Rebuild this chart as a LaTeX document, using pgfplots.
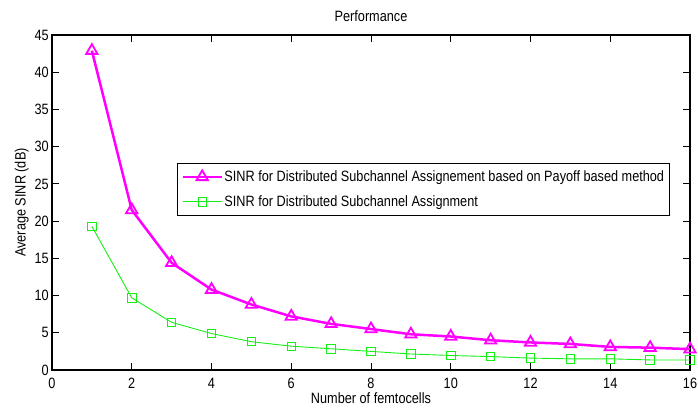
\documentclass[border=0pt]{standalone}
\usepackage{fontspec}
\setmainfont{Liberation Sans}[FakeStretch=0.85]
\usepackage{pgfplots}
\pgfplotsset{compat=1.18}
\definecolor{mag}{RGB}{255,0,255}
\definecolor{grn}{RGB}{20,240,20}
\begin{document}
\begin{tikzpicture}
\begin{axis}[
 scale only axis, width=638bp, height=335bp,
 xmin=0,xmax=16,ymin=0,ymax=45,
 xtick={0,2,...,16}, ytick={0,5,...,45},
 tick align=inside, major tick length=7bp,
 axis line style={line width=1.1bp},
 every tick/.style={black,line width=0.9bp},
 font=\fontsize{15}{17}\selectfont,
 /pgf/number format/assume math mode=true,
 xticklabel style={inner sep=0pt, yshift=-8bp},
 yticklabel style={inner sep=0pt, xshift=-3bp},
 title={Performance},
 title style={at={(axis description cs:0.5,1.021)}, anchor=base, inner sep=0pt},
 xlabel={Number of femtocells},
 xlabel style={at={(axis description cs:0.5,-0.0657)}, anchor=north, inner sep=0pt},
 ylabel={Average SINR (dB)},
 ylabel style={at={(axis description cs:-0.036,0.5)}, anchor=south, inner sep=0pt},
 legend cell align=left,
 legend style={at={(rel axis cs:0.196,0.618)}, anchor=north west, draw=black, line width=0.8bp,
   inner xsep=4bp, inner ysep=5bp, row sep=8bp,
   nodes={inner sep=1.5bp, text height=12bp, text depth=2bp},
   font=\fontsize{15}{17}\selectfont},
 legend image code/.code={\draw[mark repeat=2,mark phase=2] plot coordinates {(0bp,0bp) (19.5bp,0bp) (39bp,0bp)};},
]
\addplot[color=mag, line width=2.5bp, mark=triangle, mark size=6.5bp, mark options={solid, line width=1.8bp}]
coordinates {(1,42.9)(2,21.5)(3,14.4)(4,10.8)(5,8.8)(6,7.2)(7,6.2)(8,5.5)(9,4.8)(10,4.5)(11,4.0)(12,3.7)(13,3.5)(14,3.1)(15,3.0)(16,2.8)};
\addlegendentry{SINR for Distributed Subchannel Assignement based on Payoff based method}
\addplot[color=grn, line width=0.9bp, mark=square, mark size=4.2bp, mark options={solid, line width=0.9bp}]
coordinates {(1,19.3)(2,9.7)(3,6.4)(4,4.9)(5,3.8)(6,3.2)(7,2.85)(8,2.5)(9,2.15)(10,1.95)(11,1.8)(12,1.6)(13,1.5)(14,1.5)(15,1.35)(16,1.35)};
\addlegendentry{SINR for Distributed Subchannel Assignment}
\end{axis}
\pgfresetboundingbox
\path[use as bounding box] (current axis.south west) ++(-52bp,-44bp) rectangle ++(698bp,414bp);
\end{tikzpicture}
\end{document}
